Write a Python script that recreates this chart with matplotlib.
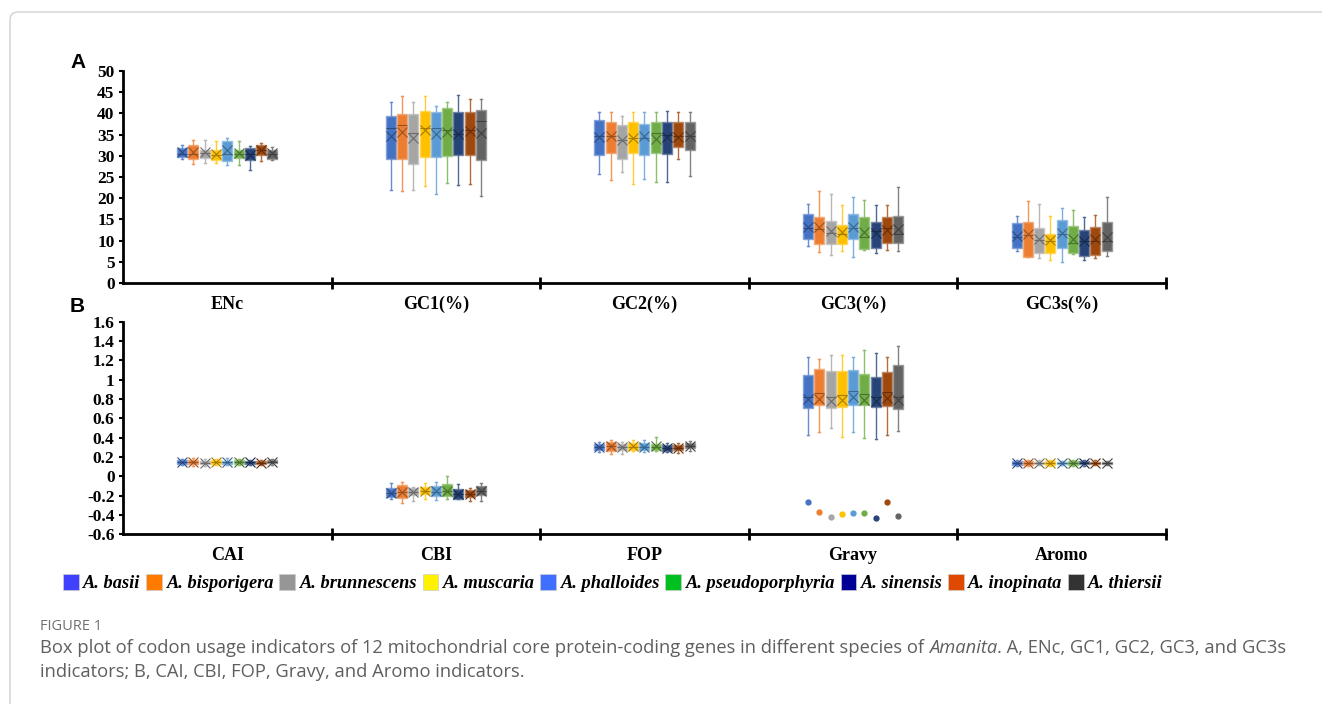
import matplotlib
matplotlib.use('Agg')
import matplotlib.pyplot as plt
from matplotlib.patches import Patch, FancyBboxPatch
from matplotlib.transforms import IdentityTransform
from matplotlib.colors import to_rgb

plt.rcParams['axes.unicode_minus'] = False

species = ['A. basii', 'A. bisporigera', 'A. brunnescens', 'A. muscaria', 'A. phalloides',
           'A. pseudoporphyria', 'A. sinensis', 'A. inopinata', 'A. thiersii']
box_colors = ['#4472C4', '#ED7D31', '#A5A5A5', '#FFC000', '#5B9BD5',
              '#70AD47', '#264478', '#9E480E', '#636363']
legend_colors = ['#4040FF', '#FF7B00', '#969696', '#FFF200', '#3F6FFF',
                 '#00C020', '#000099', '#E04A00', '#333333']

cats_a = ['ENc', 'GC1(%)', 'GC2(%)', 'GC3(%)', 'GC3s(%)']
cats_b = ['CAI', 'CBI', 'FOP', 'Gravy', 'Aromo']

# each row: whisker low, q1, median, mean, q3, whisker high (one row per species)
enc = [[29.2, 29.8, 30.5, 30.8, 31.8, 32.6],
       [28.1, 29.3, 30.5, 30.9, 32.5, 33.8],
       [28.3, 29.6, 30.7, 30.9, 31.4, 33.8],
       [28.4, 29.1, 30.3, 30.4, 31.5, 33.6],
       [27.9, 28.9, 30.5, 31.3, 33.6, 34.3],
       [27.9, 29.6, 30.5, 30.6, 31.4, 33.6],
       [26.6, 29.1, 30.5, 30.3, 31.9, 32.3],
       [28.9, 30.3, 31.5, 31.4, 32.6, 33.0],
       [29.1, 29.3, 30.5, 30.6, 31.4, 32.1]]
gc1 = [[22.0, 29.3, 36.6, 34.8, 39.5, 42.7],
       [21.6, 29.3, 37.4, 35.6, 39.9, 44.1],
       [21.9, 28.0, 35.5, 34.3, 39.9, 42.7],
       [22.8, 29.7, 36.6, 36.0, 40.7, 44.1],
       [20.9, 29.7, 36.6, 35.2, 40.3, 41.7],
       [23.6, 29.9, 36.2, 35.6, 41.3, 42.8],
       [23.2, 30.1, 35.2, 35.2, 40.3, 44.3],
       [23.4, 30.3, 36.2, 35.8, 40.3, 43.5],
       [20.5, 29.1, 38.2, 35.4, 40.9, 43.3]]
gc2 = [[25.8, 30.3, 34.6, 34.4, 38.4, 40.3],
       [24.4, 30.7, 34.6, 34.8, 38.1, 40.3],
       [26.3, 29.2, 33.8, 33.7, 37.2, 39.3],
       [23.4, 30.7, 34.3, 34.2, 37.9, 40.3],
       [24.6, 30.3, 34.2, 34.6, 37.6, 40.3],
       [23.8, 30.7, 35.5, 34.0, 38.1, 40.3],
       [23.8, 30.5, 34.9, 34.5, 38.0, 40.6],
       [29.3, 32.1, 34.6, 34.4, 37.9, 40.3],
       [25.3, 31.3, 34.8, 34.6, 38.1, 40.3]]
gc3 = [[8.7, 10.3, 12.9, 13.2, 16.2, 18.6],
       [7.2, 9.1, 12.7, 13.3, 15.6, 21.8],
       [6.6, 9.2, 11.9, 12.2, 14.6, 21.0],
       [7.5, 9.1, 11.6, 12.0, 13.6, 18.4],
       [6.2, 10.5, 12.9, 13.1, 16.2, 20.4],
       [7.9, 8.0, 10.9, 12.0, 15.6, 19.7],
       [7.0, 8.2, 12.2, 11.8, 14.5, 18.4],
       [7.9, 9.5, 12.9, 12.6, 15.6, 18.4],
       [7.5, 9.4, 11.6, 12.8, 15.8, 22.7]]
gc3s = [[7.6, 8.2, 10.9, 11.2, 14.1, 15.8],
        [6.2, 6.2, 11.3, 11.5, 14.4, 19.4],
        [5.8, 7.0, 10.2, 10.5, 12.9, 18.6],
        [5.4, 7.0, 9.9, 10.2, 11.6, 15.9],
        [4.9, 8.2, 11.6, 11.9, 14.9, 17.8],
        [6.8, 7.0, 9.5, 10.3, 13.5, 17.2],
        [5.4, 6.4, 9.9, 9.8, 12.5, 15.6],
        [5.8, 6.6, 9.9, 10.4, 13.1, 16.0],
        [6.3, 7.6, 9.9, 10.9, 14.4, 20.4]]

cai = [[0.12, 0.13, 0.15, 0.15, 0.17, 0.18],
       [0.11, 0.13, 0.15, 0.15, 0.17, 0.19],
       [0.11, 0.13, 0.14, 0.14, 0.16, 0.18],
       [0.12, 0.13, 0.15, 0.15, 0.17, 0.18],
       [0.12, 0.13, 0.15, 0.15, 0.16, 0.19],
       [0.12, 0.13, 0.15, 0.15, 0.17, 0.18],
       [0.12, 0.13, 0.15, 0.15, 0.16, 0.17],
       [0.12, 0.13, 0.14, 0.14, 0.16, 0.17],
       [0.12, 0.14, 0.15, 0.15, 0.17, 0.18]]
cbi = [[-0.23, -0.21, -0.17, -0.17, -0.12, -0.07],
       [-0.28, -0.22, -0.16, -0.16, -0.09, -0.055],
       [-0.26, -0.19, -0.16, -0.16, -0.12, -0.11],
       [-0.23, -0.18, -0.15, -0.15, -0.11, -0.07],
       [-0.245, -0.20, -0.16, -0.15, -0.10, -0.055],
       [-0.23, -0.20, -0.15, -0.15, -0.08, 0.0],
       [-0.235, -0.23, -0.18, -0.18, -0.13, -0.08],
       [-0.26, -0.21, -0.18, -0.18, -0.14, -0.12],
       [-0.26, -0.19, -0.15, -0.15, -0.10, -0.065]]
fop = [[0.25, 0.27, 0.30, 0.30, 0.33, 0.36],
       [0.23, 0.26, 0.31, 0.31, 0.36, 0.38],
       [0.23, 0.27, 0.30, 0.30, 0.33, 0.36],
       [0.26, 0.27, 0.30, 0.31, 0.34, 0.38],
       [0.25, 0.27, 0.30, 0.30, 0.34, 0.38],
       [0.26, 0.27, 0.30, 0.31, 0.33, 0.41],
       [0.25, 0.26, 0.29, 0.29, 0.32, 0.35],
       [0.24, 0.27, 0.29, 0.29, 0.32, 0.34],
       [0.26, 0.29, 0.31, 0.31, 0.34, 0.37]]
gravy = [[0.43, 0.71, 0.82, 0.80, 1.05, 1.24],
         [0.46, 0.74, 0.86, 0.80, 1.11, 1.21],
         [0.50, 0.71, 0.82, 0.78, 1.09, 1.26],
         [0.41, 0.72, 0.84, 0.79, 1.09, 1.26],
         [0.46, 0.74, 0.88, 0.82, 1.10, 1.24],
         [0.40, 0.74, 0.85, 0.79, 1.06, 1.31],
         [0.39, 0.72, 0.82, 0.78, 1.03, 1.28],
         [0.43, 0.73, 0.87, 0.81, 1.08, 1.24],
         [0.47, 0.70, 0.82, 0.79, 1.15, 1.35]]
gravy_out = [-0.27, -0.37, -0.42, -0.39, -0.38, -0.38, -0.43, -0.27, -0.41]
aromo = [[0.11, 0.12, 0.14, 0.14, 0.16, 0.17],
         [0.11, 0.12, 0.14, 0.14, 0.16, 0.17],
         [0.12, 0.13, 0.14, 0.14, 0.15, 0.17],
         [0.11, 0.12, 0.14, 0.14, 0.16, 0.17],
         [0.12, 0.13, 0.14, 0.14, 0.15, 0.16],
         [0.11, 0.12, 0.14, 0.14, 0.16, 0.17],
         [0.11, 0.13, 0.14, 0.14, 0.16, 0.17],
         [0.12, 0.13, 0.14, 0.14, 0.15, 0.17],
         [0.12, 0.13, 0.14, 0.14, 0.15, 0.16]]

serif = 'Liberation Serif'


def shade(c, f):
    r, g, b = to_rgb(c)
    if f > 0:
        return (r + (1 - r) * f, g + (1 - g) * f, b + (1 - b) * f)
    return (r * (1 + f), g * (1 + f), b * (1 + f))


def draw_panel(ax, groups, cats, outliers=None):
    step, w = 0.054, 0.048
    for i, grp in enumerate(groups):
        for j, row in enumerate(grp):
            lo, q1, med, mean, q3, hi = row
            c = box_colors[j]
            fl = [outliers[j]] if (outliers is not None and i == 3) else []
            st = dict(whislo=lo, q1=q1, med=med, mean=mean, q3=q3, whishi=hi, fliers=fl)
            pos = i + 0.5 + (j - 4) * step
            ax.bxp([st], positions=[pos], widths=w, patch_artist=True, showmeans=True,
                   boxprops=dict(facecolor=c, edgecolor=shade(c, 0.35), lw=1.0),
                   medianprops=dict(color=shade(c, -0.35), lw=0.8),
                   whiskerprops=dict(color=shade(c, 0.2), lw=1.0),
                   capprops=dict(color=shade(c, 0.2), lw=1.0),
                   capwidths=w * 0.2,
                   meanprops=dict(marker='x', markeredgecolor=shade(c, -0.35),
                                  markersize=7, markeredgewidth=0.8),
                   flierprops=dict(marker='o', markerfacecolor=c, markeredgecolor=c,
                                   markersize=3.5),
                   manage_ticks=False)
    ax.set_xlim(0, 5)
    for s in ['top', 'right']:
        ax.spines[s].set_visible(False)
    for s in ['left', 'bottom']:
        ax.spines[s].set_linewidth(2)
    ax.set_xticks([1, 2, 3, 4, 5])
    ax.set_xticklabels([])
    ax.tick_params(axis='x', which='major', direction='inout', length=8, width=2)
    ax.set_xticks([0.5, 1.5, 2.5, 3.5, 4.5], minor=True)
    ax.set_xticklabels(cats, minor=True, fontfamily=serif, fontweight='bold', fontsize=13)
    ax.tick_params(axis='x', which='minor', length=0, pad=9)
    ax.tick_params(axis='y', direction='out', length=3, width=1.5, pad=3)
    for t in ax.get_yticklabels():
        t.set_fontfamily(serif)
        t.set_fontweight('bold')
        t.set_fontsize(12.5)


fig = plt.figure(figsize=(13.22, 7.04), dpi=100)

ax_a = fig.add_axes([0.093, 0.598, 0.789, 0.301])
ax_a.set_ylim(0, 50)
ax_a.set_yticks(range(0, 51, 5))
draw_panel(ax_a, [enc, gc1, gc2, gc3, gc3s], cats_a)

ax_b = fig.add_axes([0.093, 0.241, 0.789, 0.302])
ax_b.set_ylim(-0.6, 1.6)
yt = [-0.6, -0.4, -0.2, 0, 0.2, 0.4, 0.6, 0.8, 1, 1.2, 1.4, 1.6]
ax_b.set_yticks(yt)
ax_b.set_yticklabels([f'{v:g}' for v in yt])
draw_panel(ax_b, [cai, cbi, fop, gravy, aromo], cats_b, outliers=gravy_out)

fig.text(70 / 1322, 1 - 62 / 704, 'A', fontfamily='Liberation Sans', fontweight='bold',
         fontsize=15, va='center', ha='left')
fig.text(70 / 1322, 1 - 307 / 704, 'B', fontfamily='Liberation Sans', fontweight='bold',
         fontsize=15, va='center', ha='left')

handles = [Patch(facecolor=legend_colors[k], edgecolor='#cccccc', lw=0.5) for k in range(9)]
fig.legend(handles, species, loc='center', bbox_to_anchor=(613 / 1322, 1 - 583 / 704), ncol=9,
           frameon=False, handlelength=0.85, handleheight=0.95, handletextpad=0.25,
           columnspacing=0.3, borderaxespad=0,
           prop=dict(family=serif, weight='bold', style='italic', size=13.2))

# caption
cap_col = '#5f5f5f'
fig.text(40 / 1322, 1 - 627 / 704, 'FIGURE 1', fontfamily='Open Sans', fontsize=10.5,
         color='#707070', va='center')
fig.canvas.draw()
r = fig.canvas.get_renderer()
y1 = 1 - 648 / 704
parts = [('Box plot of codon usage indicators of 12 mitochondrial core protein-coding genes '
          'in different species of ', 'normal'), ('Amanita', 'italic'),
         ('. A, ENc, GC1, GC2, GC3, and GC3s', 'normal')]
x = 40 / 1322
for txt, sty in parts:
    t = fig.text(x, y1, txt, fontfamily='Open Sans', fontsize=13.2, style=sty,
                 color=cap_col, va='center')
    bb = t.get_window_extent(renderer=r)
    x = bb.x1 / fig.bbox.width
fig.text(40 / 1322, 1 - 672 / 704, 'indicators; B, CAI, CBI, FOP, Gravy, and Aromo indicators.',
         fontfamily='Open Sans', fontsize=13.2, color=cap_col, va='center')

# outer frame
frame = FancyBboxPatch((10, -200), 1600, 892, boxstyle='round,pad=0,rounding_size=8',
                       transform=IdentityTransform(), facecolor='none',
                       edgecolor='#d0d0d0', lw=1.0)
fig.patches.append(frame)

fig.savefig('out.png', dpi=100)
plt.close(fig)
